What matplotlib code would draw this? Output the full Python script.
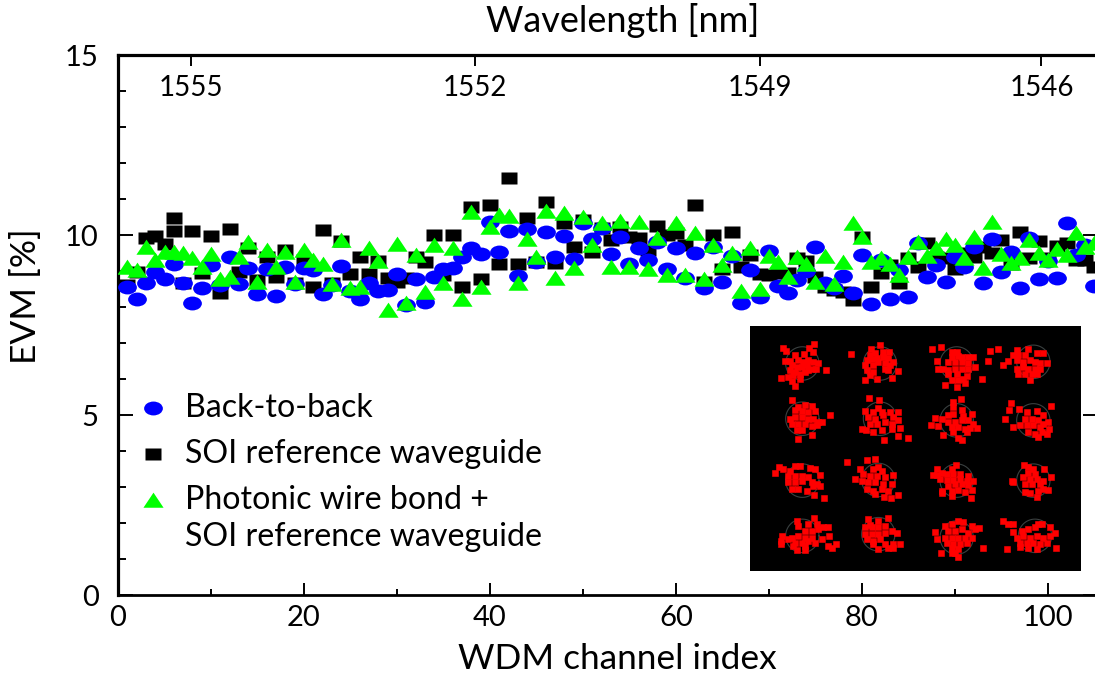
#EVM vs WDM channel index, with a 16QAM constellation inset
import numpy as np
import matplotlib
matplotlib.use('Agg')
import matplotlib.pyplot as plt
from matplotlib.path import Path
from matplotlib.transforms import Affine2D

plt.rcParams['font.family'] = ['Lato', 'DejaVu Sans']

channels = list(range(1, 106))

btb = [8.55, 8.21, 8.66, 8.98, 8.78, 9.19, 8.66, 8.12, 8.53, 9.17,
       8.61, 9.40, 8.64, 9.07, 8.36, 9.06, 8.31, 9.12, 8.64, 9.09,
       9.03, 8.36, 8.61, 9.14, 8.45, 8.21, 8.66, 8.45, 8.47, 8.92,
       8.06, 8.77, 8.15, 8.84, 9.05, 9.09, 9.40, 9.63, 9.46, 10.35,
       9.54, 10.11, 8.85, 10.17, 9.26, 10.07, 9.38, 9.98, 9.33, 10.32,
       9.88, 10.19, 9.47, 9.95, 9.19, 9.65, 9.31, 9.81, 9.05, 9.65,
       8.80, 9.49, 8.54, 9.68, 8.70, 9.42, 8.10, 9.03, 8.28, 9.55,
       8.58, 8.38, 8.75, 9.00, 9.66, 8.66, 8.52, 8.86, 8.38, 9.44,
       8.07, 9.30, 8.23, 9.03, 8.29, 9.77, 8.83, 9.16, 8.70, 9.40,
       9.10, 9.68, 8.68, 9.88, 8.98, 9.54, 8.52, 9.91, 8.77, 9.29,
       8.80, 10.32, 9.44, 9.72, 8.58]

# channel 6 has two black squares in the figure
soi_channels = channels + [6]
soi = [8.61, 8.98, 9.91, 9.98, 9.75, 10.48, 8.66, 10.11, 8.94, 9.98,
       8.40, 10.18, 8.98, 9.65, 8.75, 9.38, 8.83, 9.57, 8.66, 9.31,
       8.55, 10.13, 8.68, 9.84, 8.93, 9.38, 8.92, 9.29, 8.80, 8.70,
       8.80, 9.38, 9.26, 10.00, 8.90, 10.00, 8.56, 10.79, 8.78, 10.83,
       9.20, 11.57, 9.20, 10.48, 9.26, 10.91, 9.21, 10.32, 9.68, 10.42,
       9.54, 10.19, 9.86, 10.23, 9.95, 9.93, 9.58, 10.25, 10.00, 10.05,
       9.72, 10.83, 8.70, 10.00, 9.05, 10.08, 9.10, 9.44, 8.92, 8.89,
       8.94, 8.94, 9.37, 9.29, 8.84, 8.56, 8.47, 8.42, 8.19, 9.95,
       8.56, 8.94, 9.17, 8.66, 9.35, 9.10, 9.77, 9.40, 9.35, 9.06,
       9.50, 9.39, 9.68, 9.51, 9.86, 9.20, 10.09, 9.35, 9.84, 9.35,
       9.70, 9.77, 9.31, 9.30, 9.12, 10.11]

pwb = [9.12, 9.03, 9.68, 9.31, 9.53, 9.53, 9.49, 9.35, 9.12, 9.47,
       8.77, 8.83, 9.38, 9.81, 8.70, 9.57, 9.10, 9.53, 8.69, 9.57,
       9.31, 9.19, 8.64, 9.86, 8.52, 8.55, 9.63, 9.29, 7.93, 9.75,
       8.12, 9.44, 8.41, 9.72, 8.66, 9.65, 8.21, 10.65, 8.56, 10.23,
       10.56, 10.53, 8.68, 9.88, 9.40, 10.68, 8.80, 10.60, 9.07, 10.51,
       9.72, 10.32, 9.10, 10.40, 9.12, 10.37, 9.05, 9.91, 8.89, 10.34,
       8.89, 10.06, 8.77, 9.72, 9.16, 9.49, 8.44, 9.63, 8.49, 9.42,
       9.26, 8.83, 9.40, 9.19, 8.70, 9.42, 8.63, 9.26, 10.32, 9.94,
       9.26, 9.35, 9.19, 8.89, 9.40, 9.81, 9.42, 9.63, 9.88, 9.72,
       9.37, 9.95, 9.07, 10.35, 9.46, 9.21, 9.35, 9.86, 9.49, 9.31,
       9.60, 9.44, 10.05, 9.67, 9.77]

wl_channels = [7.8, 38.4, 69.0, 99.3]
wl_labels = ['1555', '1552', '1549', '1546']

# constellation points, in inset image coordinates
const_centres = [(172, 130), (405, 130), (635, 130), (865, 125),
                 (172, 295), (405, 295), (635, 300), (865, 300),
                 (172, 480), (400, 478), (635, 480), (865, 480),
                 (172, 645), (400, 640), (635, 650), (870, 645)]
const_points = [
    (113, 84), (122, 92), (207, 71), (193, 84), (203, 97), (177, 101), (242, 150), (108, 172), (130, 170),
    (140, 183), (149, 198), (165, 175), (120, 122), (135, 122), (150, 105), (160, 120), (175, 125), (190, 120),
    (205, 125), (218, 128), (140, 135), (155, 140), (170, 140), (185, 135), (200, 145), (213, 146), (150, 155),
    (165, 160), (180, 155), (190, 150), (135, 150), (145, 165),
    (318, 102), (405, 75), (377, 88), (360, 180), (395, 175), (442, 172), (458, 153), (375, 105), (390, 100),
    (415, 97), (432, 97), (365, 120), (380, 118), (395, 115), (415, 110), (430, 115), (445, 125), (360, 135),
    (385, 135), (400, 125), (420, 130), (435, 135), (365, 150), (385, 155), (375, 165), (430, 150), (420, 145),
    (560, 88), (588, 80), (735, 92), (758, 88), (728, 123), (710, 175), (600, 193), (635, 200), (660, 188),
    (577, 123), (620, 95), (635, 95), (640, 108), (620, 110), (650, 110), (670, 112), (685, 110), (610, 125),
    (630, 125), (650, 125), (670, 130), (690, 140), (580, 145), (595, 145), (610, 150), (630, 145), (650, 145),
    (670, 145), (610, 160), (635, 160), (620, 180), (640, 180), (665, 168), (655, 175),
    (775, 135), (790, 122), (875, 100), (895, 100), (815, 90), (850, 88), (805, 105), (820, 105), (840, 105),
    (815, 120), (835, 125), (855, 120), (870, 125), (885, 130), (905, 130), (815, 145), (835, 140), (850, 145),
    (870, 145), (885, 145), (820, 160), (840, 160), (860, 160), (855, 178), (875, 160),
    (142, 240), (254, 284), (160, 355), (202, 345), (160, 260), (180, 255), (200, 258), (210, 272), (150, 270),
    (170, 272), (190, 275), (135, 295), (150, 290), (170, 290), (190, 295), (205, 295), (220, 305), (232, 305),
    (140, 310), (160, 310), (180, 312), (200, 318), (215, 315), (155, 330), (170, 330),
    (372, 232), (403, 240), (400, 263), (418, 358), (488, 353), (460, 347), (360, 272), (385, 275), (410, 275),
    (435, 275), (460, 275), (370, 290), (390, 295), (415, 285), (445, 290), (460, 300), (375, 310), (395, 310),
    (420, 305), (440, 310), (465, 322), (350, 325), (362, 328), (385, 335), (410, 330), (440, 325),
    (623, 245), (647, 236), (623, 260), (682, 280), (558, 315), (580, 318), (595, 345), (695, 323), (650, 360),
    (640, 352), (570, 293), (590, 295), (610, 285), (625, 280), (650, 268), (655, 288), (610, 305), (630, 305),
    (650, 300), (670, 300), (685, 310), (620, 320), (640, 320), (660, 325), (675, 322), (625, 335), (665, 335),
    (798, 249), (792, 270), (822, 266), (780, 297), (803, 319), (917, 258), (880, 350), (845, 275), (875, 272),
    (895, 285), (910, 305), (840, 295), (860, 295), (880, 300), (895, 310), (825, 315), (845, 315), (865, 315),
    (885, 320), (912, 325), (850, 335), (870, 340), (890, 335), (905, 340),
    (90, 458), (101, 440), (115, 445), (236, 532), (208, 522), (135, 450), (150, 437), (165, 437), (195, 442),
    (210, 445), (225, 462), (130, 465), (150, 465), (170, 465), (190, 470), (130, 485), (150, 485), (170, 480),
    (200, 485), (215, 490), (225, 495), (140, 505), (160, 505), (185, 510), (205, 495),
    (307, 423), (365, 418), (390, 414), (330, 476), (460, 523), (437, 533), (418, 528), (345, 445), (400, 440),
    (385, 445), (410, 450), (443, 462), (355, 460), (375, 465), (395, 465), (420, 470), (350, 480), (370, 485),
    (390, 485), (415, 490), (440, 490), (365, 505), (385, 510), (410, 505), (430, 510), (390, 520),
    (633, 432), (620, 445), (577, 445), (565, 462), (575, 462), (622, 527), (677, 532), (680, 507), (590, 458),
    (605, 460), (625, 460), (645, 460), (670, 465), (585, 475), (605, 478), (625, 478), (645, 475), (665, 480),
    (685, 480), (610, 495), (630, 490), (650, 490), (670, 492), (590, 510), (590, 518), (620, 510), (640, 508),
    (660, 515),
    (838, 432), (850, 440), (898, 445), (918, 470), (875, 528), (908, 507), (865, 445), (870, 460), (850, 458),
    (835, 470), (855, 475), (875, 475), (895, 480), (800, 482), (805, 485), (840, 490), (860, 490), (885, 490),
    (840, 515), (855, 518), (880, 510), (895, 505),
    (155, 600), (208, 592), (250, 618), (110, 645), (108, 660), (108, 668), (253, 645), (248, 675), (262, 680),
    (272, 670), (155, 688), (180, 688), (160, 615), (190, 610), (215, 610), (235, 620), (180, 630), (200, 630),
    (220, 625), (140, 650), (160, 645), (180, 650), (200, 650), (130, 655), (150, 665), (170, 665), (190, 660),
    (210, 665), (230, 655), (145, 675), (180, 675),
    (370, 596), (400, 600), (430, 593), (375, 612), (360, 620), (380, 620), (400, 620), (420, 615), (440, 630),
    (360, 640), (380, 640), (400, 640), (420, 635), (455, 635), (365, 655), (385, 660), (405, 655), (445, 670),
    (465, 670), (400, 685), (430, 680), (385, 670), (420, 668), (445, 680),
    (600, 615), (570, 632), (577, 653), (588, 697), (702, 622), (715, 680), (640, 707), (620, 695), (640, 600),
    (620, 610), (655, 605), (680, 615), (690, 625), (610, 630), (630, 630), (650, 625), (670, 635), (600, 650),
    (620, 650), (640, 650), (660, 650), (680, 650), (605, 665), (625, 668), (645, 668), (665, 665), (620, 680),
    (640, 685), (630, 697),
    (773, 602), (790, 610), (805, 610), (803, 632), (787, 685), (933, 680), (880, 610), (830, 630), (850, 625),
    (870, 620), (890, 610), (915, 620), (930, 635), (815, 650), (835, 645), (855, 650), (875, 645), (895, 650),
    (915, 645), (825, 665), (845, 665), (865, 665), (885, 670), (905, 665), (825, 678), (850, 680), (875, 685),
]

W, H = 1095, 676
fig = plt.figure(figsize=(W / 100, H / 100), dpi=100)
# right spine sits just outside the picture, as in the original crop
ax = fig.add_axes([118 / W, 1 - 595 / H, 980 / W, 540 / H])

# the picture is stretched sideways, so the markers are too
ellipse = Path.unit_circle().transformed(Affine2D().scale(1, 0.74))
square = Path([(-1, -0.8), (1, -0.8), (1, 0.8), (-1, 0.8), (-1, -0.8)], closed=True)
triangle = Path([(-1, -0.72), (1, -0.72), (0, 0.78), (-1, -0.72)], closed=True)

blue = '#0000ff'
green = '#00ff00'

ax.plot(soi_channels, soi, ls='none', marker=square, ms=11.5, mfc='k', mec='none', zorder=3)
ax.plot(channels, btb, ls='none', marker=ellipse, ms=13.5, mfc=blue, mec='none', zorder=4)
ax.plot(channels, pwb, ls='none', marker=triangle, ms=14.5, mfc=green, mec='none', zorder=5)

ax.set_xlim(0, 980 / 9.3)
ax.set_ylim(0, 15)
ax.set_xticks(np.arange(0, 101, 20))
ax.set_xticks(np.arange(10, 101, 20), minor=True)
ax.set_yticks([0, 5, 10, 15])
ax.set_yticks(np.arange(0, 16, 1), minor=True)

for s in ['left', 'top', 'right']:
    ax.spines[s].set_linewidth(2.3)
ax.spines['bottom'].set_linewidth(2.0)

ax.tick_params(axis='both', which='major', direction='in', labelsize=21, width=1.4, right=True)
ax.tick_params(axis='x', which='major', length=8.5, pad=7)
ax.tick_params(axis='x', which='minor', direction='in', length=4, width=1.4)
ax.tick_params(axis='y', which='major', length=11, pad=14)
ax.tick_params(axis='y', which='minor', direction='in', length=5.5, width=1.4)
ax.set_xlabel('WDM channel index', fontsize=25.4)
ax.xaxis.set_label_coords((617 - 118) / 980, -0.0885)
ax.set_ylabel('EVM [%]', fontsize=25.4)
ax.yaxis.set_label_coords(-0.0776, 0.553)

top = ax.secondary_xaxis('top')
top.set_xticks(wl_channels)
top.set_xticklabels(wl_labels)
top.tick_params(axis='x', direction='in', length=8, width=1.4, labelsize=20, pad=-33)
top.spines['top'].set_visible(False)
fig.text(623 / W, 1 - 20 / H, 'Wavelength [nm]', fontsize=26, ha='center', va='center')

# legend, laid out by hand because the last entry runs over two lines
ax_px = lambda x, y: ((x - 118) / 980, (595 - y) / 540)
keys = [(ellipse, blue, 13.5, 408), (square, 'k', 11.5, 454), (triangle, green, 14.5, 500)]
for marker, colour, ms, y in keys:
    ax.plot(*ax_px(153, y), marker=marker, ms=ms, mfc=colour, mec='none', transform=ax.transAxes, zorder=6)
labels = [('Back-to-back', 408), ('SOI reference waveguide', 454),
          ('Photonic wire bond +', 500), ('SOI reference waveguide', 537)]
for label, y in labels:
    ax.text(*ax_px(185, y), label, fontsize=23.1, va='center', ha='left', transform=ax.transAxes, zorder=6)

# constellation inset
inset = fig.add_axes([750 / W, 1 - 571 / H, 331 / W, 245 / H], zorder=7)
inset.set_facecolor('k')
inset.set_xlim(15, 1008)
inset.set_ylim(750, 18)
inset.set_xticks([])
inset.set_yticks([])
for s in inset.spines.values():
    s.set_visible(False)
a = np.linspace(0, 2 * np.pi, 80)
for cx, cy in const_centres:
    inset.plot(cx + 50 * np.cos(a), cy + 50 * np.sin(a), color='#3a4040', lw=0.8)
px, py = zip(*const_points)
inset.plot(px, py, ls='none', marker='s', ms=4.6, mfc='#ff0000', mec='#ff0000', mew=0.4)

fig.savefig('out.png', dpi=100)
